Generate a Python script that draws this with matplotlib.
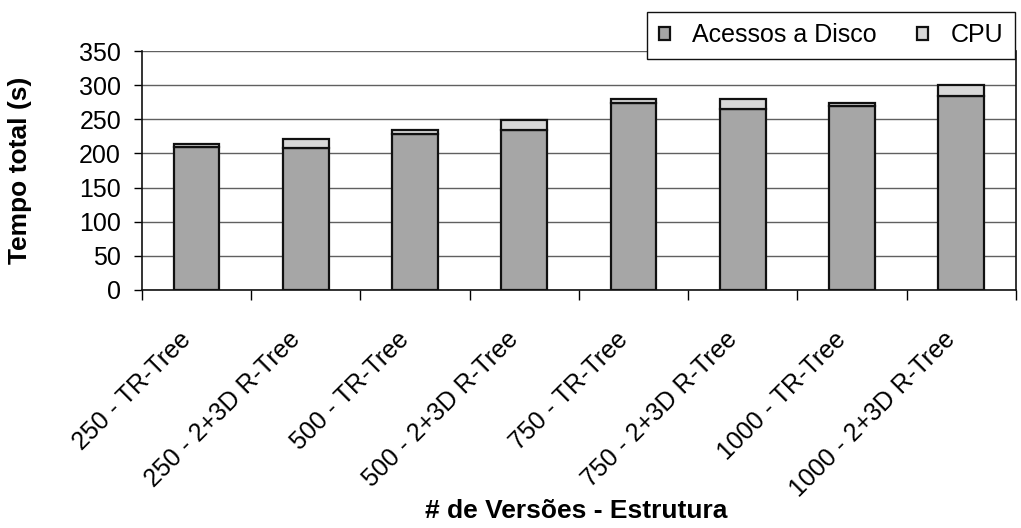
import numpy as np
import matplotlib.pyplot as plt
from matplotlib.transforms import ScaledTranslation

plt.rcParams['font.family'] = ['Liberation Sans', 'DejaVu Sans']

estruturas = ['250 - TR-Tree', '250 - 2+3D R-Tree', '500 - TR-Tree', '500 - 2+3D R-Tree',
              '750 - TR-Tree', '750 - 2+3D R-Tree', '1000 - TR-Tree', '1000 - 2+3D R-Tree']
acessos_disco = [210, 208, 228, 235, 274, 265, 269, 284]
cpu = [4, 13, 6, 14, 6, 15, 5, 17]
yticks = [0, 50, 100, 150, 200, 250, 300, 350]

fig = plt.figure(figsize=(10.21, 5.28), dpi=100)
ax = fig.add_axes([0.139, 0.451, 0.856, 0.452])

x = np.arange(len(estruturas))
w = 0.42
ax.bar(x, acessos_disco, w, color='#a6a6a6', edgecolor='#111111', linewidth=1.6,
       label='Acessos a Disco', zorder=3)
ax.bar(x, cpu, w, bottom=acessos_disco, color='#d8d8d8', edgecolor='#111111',
       linewidth=1.6, label='CPU', zorder=3)

ax.set_xlim(-0.5, len(estruturas) - 0.5)
ax.set_ylim(0, 350)
ax.set_yticks(yticks)
ax.set_yticklabels([str(v) for v in yticks], fontsize=18)
ax.yaxis.grid(True, color='#606060', linewidth=1.0, zorder=0)
ax.tick_params(axis='y', direction='out', length=6, width=1, pad=9)

# ticks sit between categories, labels at category centres
ax.set_xticks(np.arange(len(estruturas) + 1) - 0.5)
ax.set_xticklabels([])
ax.set_xticks(x, minor=True)
ax.set_xticklabels(estruturas, minor=True, rotation=45, ha='right',
                   va='center', rotation_mode='anchor', fontsize=18)
ax.tick_params(axis='x', which='major', direction='out', length=7, width=1)
ax.tick_params(axis='x', which='minor', length=0, pad=33)
shift = ScaledTranslation(-7 / 72, 0, fig.dpi_scale_trans)
for lbl in ax.get_xticklabels(minor=True):
    lbl.set_transform(lbl.get_transform() + shift)

ax.spines['top'].set_visible(False)
for s in ['left', 'bottom', 'right']:
    ax.spines[s].set_color('#111111')
    ax.spines[s].set_linewidth(1.2)

ax.set_ylabel('Tempo total (s)', fontsize=19, fontweight='bold')
ax.yaxis.set_label_coords(-0.126, 0.5)
ax.set_xlabel('# de Versões - Estrutura', fontsize=19, fontweight='bold')
ax.xaxis.set_label_coords(0.497, -0.875)

leg = fig.legend(loc='upper left', bbox_to_anchor=(0.634, 0.977), ncol=2, fontsize=18,
                 frameon=True, fancybox=False, edgecolor='#111111', framealpha=1,
                 handlelength=0.45, handleheight=0.45, handletextpad=0.9,
                 columnspacing=1.6, borderpad=0.45, borderaxespad=0)
leg.get_frame().set_linewidth(1.0)

fig.savefig('out.png', dpi=100)
